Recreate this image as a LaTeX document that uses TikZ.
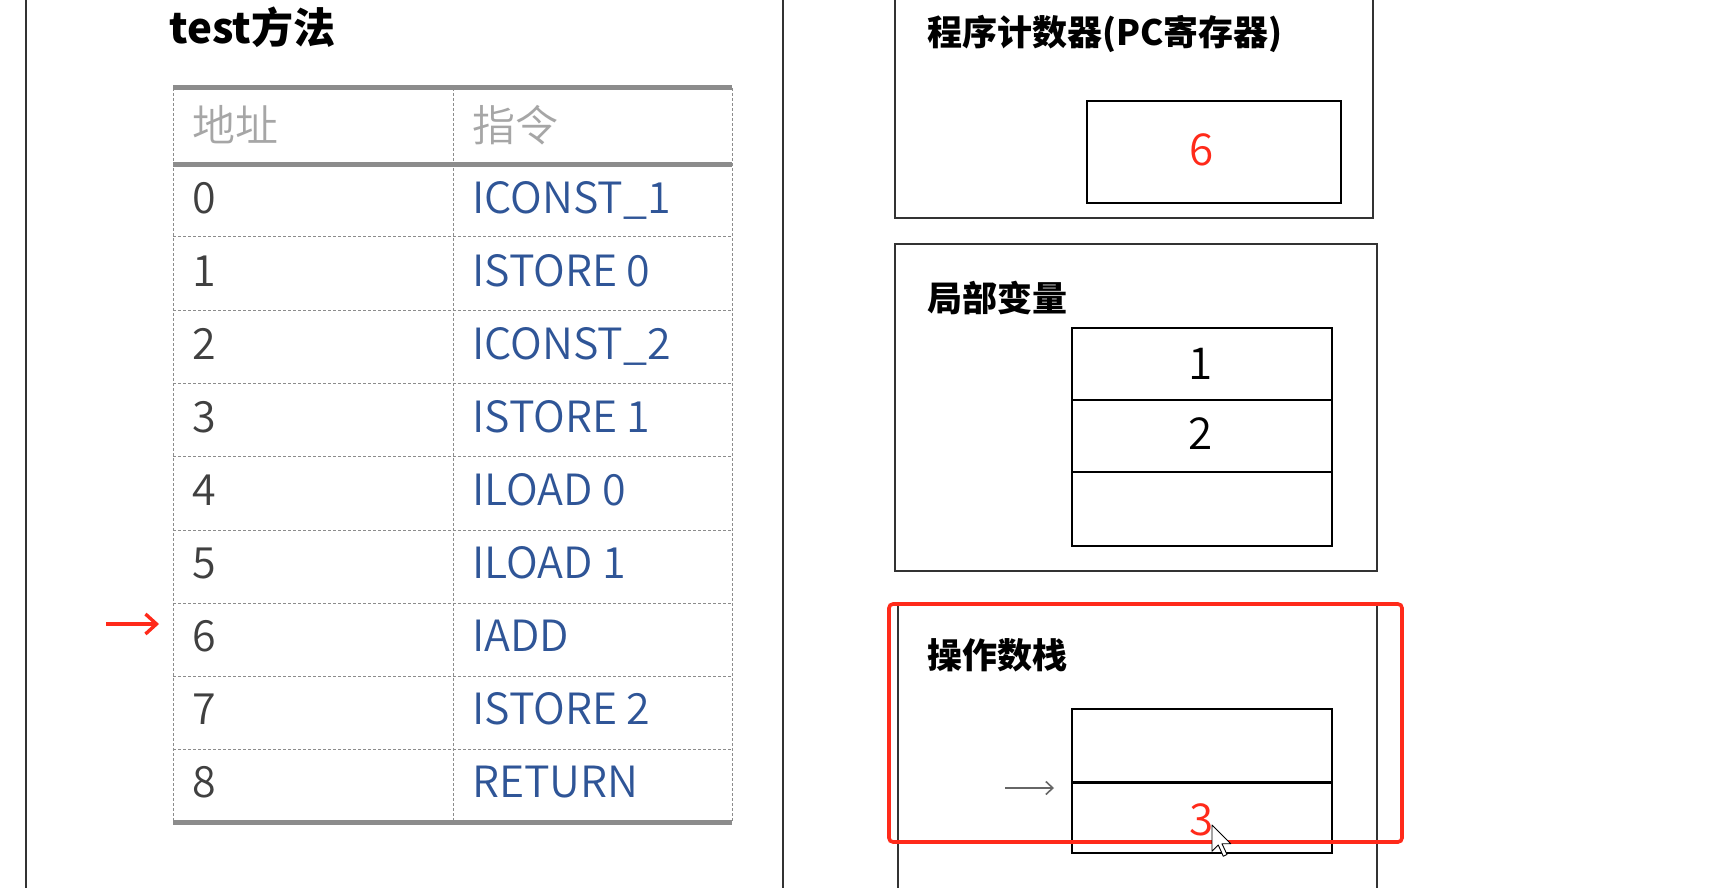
\documentclass[tikz,border=0pt]{standalone}
\usepackage{fontspec}
\setmainfont{Noto Sans CJK SC}
\newfontfamily\thinfont{Noto Sans CJK SC DemiLight}
\usetikzlibrary{arrows.meta}
\definecolor{insblue}{HTML}{2F5597}
\definecolor{addrgray}{HTML}{404040}
\definecolor{headgray}{HTML}{A6A6A6}
\definecolor{rulegray}{HTML}{8C8C8C}
\definecolor{markred}{HTML}{FF2A1A}
\definecolor{framegray}{HTML}{333333}
\begin{document}
\begin{tikzpicture}[x=1pt,y=-1pt,
  frame/.style={draw=framegray,line width=1.8pt},
  cellline/.style={draw=black,line width=1.6pt},
  thickrule/.style={draw=rulegray,line width=5pt},
  dashrule/.style={draw=rulegray,line width=1pt,dash pattern=on 3pt off 2pt},
  tabletext/.style={inner sep=0pt,font=\thinfont\fontsize{43}{43}\selectfont},
  addr/.style={tabletext,anchor=base west,text=addrgray},
  instr/.style={tabletext,anchor=base west,text=insblue},
  head/.style={tabletext,anchor=west,text=headgray},
  boxtitle/.style={inner sep=0pt,anchor=west,font=\bfseries\fontsize{35}{35}\selectfont},
  value/.style={inner sep=0pt,font=\thinfont\fontsize{44}{44}\selectfont},
  pointer/.style={-{Straight Barb[length=11pt,width=20pt]},line width=3.4pt}
]
\useasboundingbox[fill=white] (0,0) rectangle (1710,888);

% left panel borders
\draw[frame] (26,0) -- (26,888);
\draw[frame] (783,0) -- (783,888);

% method title
\node[inner sep=0pt,anchor=west,font=\bfseries\fontsize{42}{42}\selectfont] (title) at (169,27) {test方法};

% instruction table grid
\foreach \yy in {236,310,383,456,530,603,676,749}
  \draw[dashrule] (173,\yy) -- (732,\yy);
\foreach \xx in {173,453,732}
  \draw[dashrule] (\xx,88) -- (\xx,822);
\draw[thickrule] (173,88) -- (732,88);
\draw[thickrule] (173,164) -- (732,164);
\draw[thickrule] (173,822) -- (732,822);

% header row
\node[head] (haddr) at (192,125) {地址};
\node[head] (hins) at (472,125) {指令};

% table rows
\foreach \a/\ins [count=\i from 0] in {0/ICONST\_1,1/ISTORE 0,2/ICONST\_2,3/ISTORE 1,4/ILOAD 0,5/ILOAD 1,6/IADD,7/ISTORE 2,8/RETURN}{
  \pgfmathsetmacro\by{164+73.1*\i+49}
  \node[addr] (addr\i) at (192,\by) {\a};
  \node[instr] (ins\i) at (472,\by) {\ins};
}

% current instruction marker
\coordinate (pctail) at (106,624);
\coordinate (pchead) at (159,624);
\draw[pointer,markred] (pctail) -- (pchead);

% program counter box
\draw[frame] (895,0) -- (895,218) -- (1373,218) -- (1373,0);
\node[boxtitle] (pctitle) at (927,34) {程序计数器(PC寄存器)};
\draw[cellline] (1087,101) rectangle (1341,203);
\node[value,text=markred] (pcval) at (1202,150) {6};

% local variables box
\draw[frame] (895,244) rectangle (1377,571);
\node[boxtitle] (lvtitle) at (927,298) {局部变量};
\draw[cellline] (1072,328) rectangle (1332,546);
\draw[black,line width=1.3pt] (1072,400) -- (1332,400);
\draw[black,line width=2.8pt] (1072,472) -- (1332,472);
\node[value,text=black] (lv0) at (1201,364) {1};
\node[value,text=black] (lv1) at (1201,434) {2};

% operand stack box
\draw[frame] (898,888) -- (898,605) -- (1377,605) -- (1377,888);
\node[boxtitle] (ostitle) at (927,655) {操作数栈};
\draw[cellline] (1072,709) rectangle (1332,853);
\draw[black,line width=3pt] (1072,782) -- (1332,782);
\node[value,text=markred] (os0) at (1202,820) {3};
\coordinate (sptail) at (1005,788);
\coordinate (sphead) at (1054,788);
\draw[-{Straight Barb[length=7pt,width=13pt]},line width=1.6pt,draw=black!60] (sptail) -- (sphead);

% highlight frame
\draw[markred,line width=3.6pt,rounded corners=4pt] (889,604) rectangle (1402,842);

% mouse pointer
\begin{scope}[shift={(1212,825)},scale=1.25]
  \draw[fill=white,draw=black,line width=0.9pt,line join=round]
    (0,0) -- (0,21) -- (5,16) -- (9,25) -- (12,23.6) -- (8,15) -- (15,15) -- cycle;
\end{scope}
\end{tikzpicture}
\end{document}
